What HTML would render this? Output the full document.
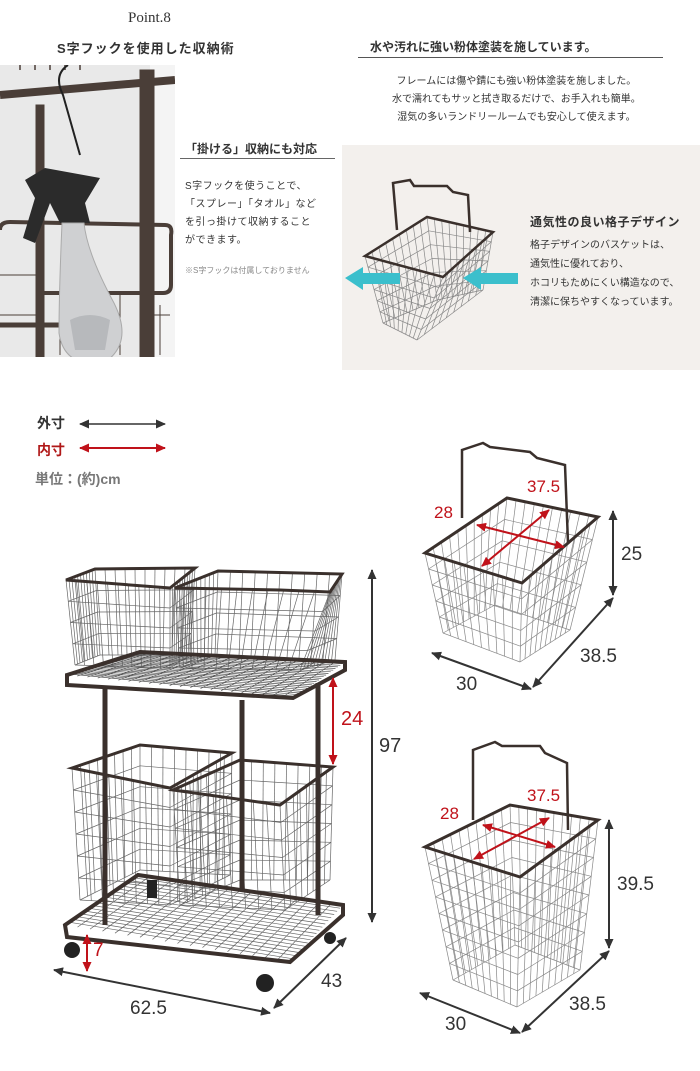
<!DOCTYPE html>
<html><head><meta charset="utf-8"><style>
body{margin:0;width:700px;height:1071px;background:#fff;position:relative;overflow:hidden;font-family:"Liberation Sans","Noto Sans CJK JP",sans-serif;color:#333}
.t{position:absolute;white-space:nowrap}
</style></head><body>
<div class="t" style="left:128px;top:10px;font-family:'Liberation Serif',serif;font-size:15px">Point.8</div>
<div class="t" style="left:57px;top:38px;font-size:13px;font-weight:bold;letter-spacing:1px">S字フックを使用した収納術</div>
<div class="t" style="left:370px;top:38px;font-size:12px;font-weight:bold">水や汚れに強い粉体塗装を施しています。</div>
<div style="position:absolute;left:358px;top:57px;width:305px;height:1px;background:#555"></div>
<div class="t" style="left:392px;top:73px;font-size:10px;line-height:18px;text-align:center">フレームには傷や錆にも強い粉体塗装を施しました。<br>水で濡れてもサッと拭き取るだけで、お手入れも簡単。<br>湿気の多いランドリールームでも安心して使えます。</div>
<div style="position:absolute;left:342px;top:145px;width:358px;height:225px;background:#f3f0ed"></div>
<svg style="position:absolute;left:0;top:65px" width="175" height="292">
<rect width="175" height="292" fill="#e9e9e9"/>
<rect x="150" width="25" height="292" fill="#f4f4f4"/>
<g stroke="#4a3e38" fill="none">
<path d="M0 30 L175 15" stroke-width="8"/>
<path d="M20 0 v5 M35 0 v5 M50 0 v5 M65 0 v5 M80 0 v5" stroke-width="1.5"/>
<rect x="36" y="40" width="8" height="252" fill="#4a3e38"/>
<rect x="140" y="5" width="14" height="287" fill="#4a3e38"/>
<path d="M0 165 q0 -8 10 -8 L165 160 q8 0 6 10 v50 q0 8 -8 8 H40" stroke-width="4"/>
<path d="M0 260 H70" stroke-width="5"/>
<path d="M60 230 v60 M80 230 v60 M100 230 v60 M120 230 v60 M145 235 v55 M160 240 v50 M0 210 h40 M0 250 h40 M140 250 h30" stroke-width="1"/>
<path d="M68 0 q-15 10 -5 30 L80 90" stroke="#222" stroke-width="2"/>
</g>
<path d="M25 115 l20 -12 l55 10 l-15 25 l5 20 l-30 0 l-10 -20 l-15 40 l-12 -5 l12 -40 z" fill="#2b2b2b"/>
<path d="M62 158 h22 q3 30 30 80 q20 40 -10 60 q-40 5 -45 -30 q0 -40 3 -110z" fill="#cfd0d2" stroke="#aaa"/>
<path d="M70 255 q20 -10 40 0 l-5 30 h-30z" fill="#b7b9bc"/>
</svg>
<div class="t" style="left:185px;top:140px;font-size:12px;font-weight:bold">「掛ける」収納にも対応</div>
<div style="position:absolute;left:180px;top:158px;width:155px;height:1px;background:#666"></div>
<div class="t" style="left:185px;top:178px;font-size:10px;line-height:18px;letter-spacing:.5px">S字フックを使うことで、<br>「スプレー」「タオル」など<br>を引っ掛けて収納すること<br>ができます。</div>
<div class="t" style="left:185px;top:265px;font-size:8px;color:#888">※S字フックは付属しておりません</div>
<div class="t" style="left:530px;top:213px;font-size:12px;font-weight:bold;letter-spacing:.5px">通気性の良い格子デザイン</div>
<div class="t" style="left:530px;top:236px;font-size:10px;line-height:19px">格子デザインのバスケットは、<br>通気性に優れており、<br>ホコリもためにくい構造なので、<br>清潔に保ちやすくなっています。</div>

<div class="t" style="left:37px;top:413px;font-size:14px;font-weight:bold">外寸</div>
<div class="t" style="left:37px;top:440px;font-size:14px;font-weight:bold;color:#b01818">内寸</div>
<div class="t" style="left:35px;top:469px;font-size:14px;font-weight:bold;color:#777">単位：(約)cm</div>

<svg id="s" style="position:absolute;left:0;top:0" width="700" height="1071">
<defs><marker id="a" markerUnits="userSpaceOnUse" markerWidth="10" markerHeight="10" refX="9" refY="5" orient="auto-start-reverse"><path d="M0 0.5L10 5L0 9.5z" fill="#333"/></marker>
<marker id="r" markerUnits="userSpaceOnUse" markerWidth="10" markerHeight="10" refX="9" refY="5" orient="auto-start-reverse"><path d="M0 0.5L10 5L0 9.5z" fill="#c0121a"/></marker></defs>
<g id="m"></g>
<path d="M345 278 l18 -11 v6 h37 v11 h-37 v6z" fill="#3bbfcc"/>
<path d="M463 278 l18 -11 v6 h37 v11 h-37 v6z" fill="#3bbfcc"/>
<g stroke="#3a302c" fill="none" stroke-width="2.5">
<path d="M397 230 L393 183 L410 180 L414 186 L447 186 L453 192 L468 195 L470 232"/>
<path d="M365 256 L427 217 L493 232 L443 277 Z"/>
<path d="M462 518 L462 450 L483 443 L490 447 L530 452 L537 458 L565 465 L568 543"/>
<path d="M425 553 L507 498 L598 517 L522 583 Z" stroke-width="3"/>
<path d="M473 820 L473 750 L495 742 L502 746 L540 746 L545 753 L567 763 L568 830"/>
<path d="M425 847 L510 805 L598 820 L520 877 Z" stroke-width="3"/>
<path d="M66 580 L95 569 L195 568 L170 588 Z M175 588 L218 571 L342 574 L330 592 L280 590 Z" stroke-width="3"/>
<path d="M72 768 L140 745 L232 753 L170 788 Z M173 790 L240 760 L333 767 L280 805 Z" stroke-width="3"/>
<path d="M105 688 V925 M242 700 V890 M318 683 V915" stroke-width="5"/>
<path d="M67 675 L140 652 L345 662 L345 670 L293 698 L67 685 Z" stroke-width="4"/>
<path d="M65 925 L138 875 L343 905 L343 915 L290 962 L67 937 Z" stroke-width="4"/>
</g>
<g fill="#222"><circle cx="72" cy="950" r="8"/><circle cx="265" cy="983" r="9"/><circle cx="330" cy="938" r="6"/><rect x="147" y="880" width="10" height="18"/></g>
<line x1="80" y1="424" x2="165" y2="424" stroke="#333" stroke-width="1.5" marker-start="url(#a)" marker-end="url(#a)"/>
<line x1="80" y1="448" x2="165" y2="448" stroke="#c0121a" stroke-width="2" marker-start="url(#r)" marker-end="url(#r)"/>
<line x1="372" y1="570" x2="372" y2="922" stroke="#333" stroke-width="2" marker-start="url(#a)" marker-end="url(#a)"/>
<line x1="333" y1="678" x2="333" y2="764" stroke="#c0121a" stroke-width="2" marker-start="url(#r)" marker-end="url(#r)"/>
<line x1="87" y1="935" x2="87" y2="971" stroke="#c0121a" stroke-width="2" marker-start="url(#r)" marker-end="url(#r)"/>
<line x1="54" y1="970" x2="270" y2="1013" stroke="#333" stroke-width="2" marker-start="url(#a)" marker-end="url(#a)"/>
<line x1="274" y1="1008" x2="346" y2="938" stroke="#333" stroke-width="2" marker-start="url(#a)" marker-end="url(#a)"/>
<line x1="477" y1="525" x2="564" y2="547" stroke="#c0121a" stroke-width="2" marker-start="url(#r)" marker-end="url(#r)"/>
<line x1="482" y1="566" x2="549" y2="510" stroke="#c0121a" stroke-width="2" marker-start="url(#r)" marker-end="url(#r)"/>
<line x1="483" y1="825" x2="555" y2="847" stroke="#c0121a" stroke-width="2" marker-start="url(#r)" marker-end="url(#r)"/>
<line x1="474" y1="859" x2="549" y2="818" stroke="#c0121a" stroke-width="2" marker-start="url(#r)" marker-end="url(#r)"/>
<line x1="613" y1="511" x2="613" y2="595" stroke="#333" stroke-width="2" marker-start="url(#a)" marker-end="url(#a)"/>
<line x1="432" y1="653" x2="531" y2="689" stroke="#333" stroke-width="2" marker-start="url(#a)" marker-end="url(#a)"/>
<line x1="533" y1="687" x2="613" y2="598" stroke="#333" stroke-width="2" marker-start="url(#a)" marker-end="url(#a)"/>
<line x1="609" y1="820" x2="609" y2="948" stroke="#333" stroke-width="2" marker-start="url(#a)" marker-end="url(#a)"/>
<line x1="420" y1="993" x2="520" y2="1033" stroke="#333" stroke-width="2" marker-start="url(#a)" marker-end="url(#a)"/>
<line x1="522" y1="1032" x2="609" y2="951" stroke="#333" stroke-width="2" marker-start="url(#a)" marker-end="url(#a)"/>
</svg>
<div class="t" style="left:379px;top:735px;font-size:20px;color:#333">97</div>
<div class="t" style="left:341px;top:708px;font-size:20px;color:#c0121a">24</div>
<div class="t" style="left:93px;top:940px;font-size:19px;color:#c0121a">7</div>
<div class="t" style="left:130px;top:998px;font-size:19px">62.5</div>
<div class="t" style="left:321px;top:971px;font-size:19px">43</div>
<div class="t" style="left:434px;top:503px;font-size:17px;color:#c0121a">28</div>
<div class="t" style="left:527px;top:477px;font-size:17px;color:#c0121a">37.5</div>
<div class="t" style="left:621px;top:544px;font-size:19px">25</div>
<div class="t" style="left:456px;top:674px;font-size:19px">30</div>
<div class="t" style="left:580px;top:646px;font-size:19px">38.5</div>
<div class="t" style="left:440px;top:804px;font-size:17px;color:#c0121a">28</div>
<div class="t" style="left:527px;top:786px;font-size:17px;color:#c0121a">37.5</div>
<div class="t" style="left:617px;top:874px;font-size:19px">39.5</div>
<div class="t" style="left:445px;top:1014px;font-size:19px">30</div>
<div class="t" style="left:569px;top:994px;font-size:19px">38.5</div>
<script>
(function(){
var g=document.getElementById('m'),out='';
function L(a,b,t){return [a[0]+(b[0]-a[0])*t,a[1]+(b[1]-a[1])*t];}
function ln(p,q,c,w){out+='<line x1="'+p[0].toFixed(1)+'" y1="'+p[1].toFixed(1)+'" x2="'+q[0].toFixed(1)+'" y2="'+q[1].toFixed(1)+'" stroke="'+c+'" stroke-width="'+w+'"/>';}
function basket(top,bot,nv,nr,c){
 c=c||'#888';
 for(var e=0;e<4;e++){var a=top[e],b=top[(e+1)%4],A=bot[e],B=bot[(e+1)%4];
  for(var i=1;i<nv;i++){var t=i/nv;ln(L(a,b,t),L(A,B,t),c,0.7);}}
 for(var r=1;r<=nr;r++){var t=r/nr,p=[];for(var k=0;k<4;k++)p.push(L(top[k],bot[k],t));
  for(var k=0;k<4;k++)ln(p[k],p[(k+1)%4],c,0.7);}
 for(var k=0;k<4;k++)ln(top[k],bot[k],c,0.7);
}
function grid(q,n,c){for(var i=1;i<n;i++){var t=i/n;ln(L(q[0],q[1],t),L(q[3],q[2],t),c,0.7);ln(L(q[0],q[3],t),L(q[1],q[2],t),c,0.7);}}
basket([[365,256],[427,217],[493,232],[443,277]],[[383,323],[437,300],[483,290],[417,340]],9,6);
basket([[425,553],[507,498],[598,517],[522,583]],[[443,633],[495,605],[570,630],[520,662]],10,5);
basket([[425,847],[510,805],[598,820],[520,877]],[[453,980],[515,945],[580,970],[517,1007]],10,8);
basket([[66,580],[95,569],[195,568],[170,588]],[[75,665],[100,655],[190,655],[170,668]],10,4,'#666');
basket([[175,588],[218,571],[342,574],[330,592]],[[180,668],[215,655],[335,660],[300,670]],10,4,'#666');
basket([[72,768],[140,745],[232,753],[170,788]],[[80,900],[140,870],[230,875],[170,905]],8,6,'#666');
basket([[173,790],[240,760],[333,767],[280,805]],[[180,905],[240,880],[330,880],[285,910]],8,6,'#666');
grid([[67,675],[140,652],[345,662],[293,698]],22,'#555');
grid([[65,925],[138,875],[343,905],[290,962]],18,'#666');
g.innerHTML=out;
})();
</script>
</body></html>
